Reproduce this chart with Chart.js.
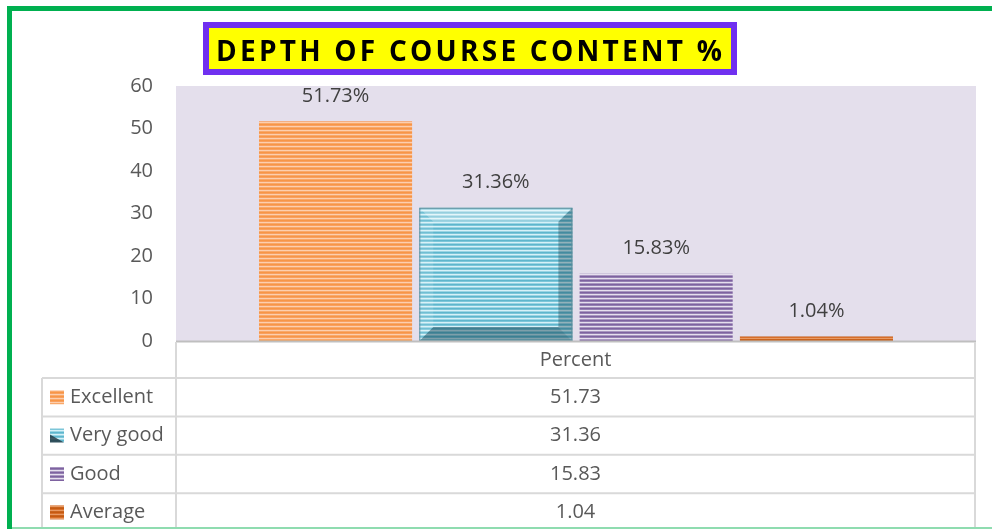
<!DOCTYPE html>
<html>
<head>
<meta charset="utf-8">
<script src="https://cdn.jsdelivr.net/npm/chart.js@4.4.0/dist/chart.umd.min.js"></script>
<style>
  html, body { margin: 0; padding: 0; background: #fff; }
  canvas { display: block; }
</style>
</head>
<body>
<canvas id="chart" width="992" height="529"></canvas>
<script>
// data
const categories = ['Excellent', 'Very good', 'Good', 'Average'];
const percent = [51.73, 31.36, 15.83, 1.04];
const seriesName = 'Percent';
const yMin = 0, yMax = 60, yStep = 10;
const titleText = 'DEPTH OF COURSE CONTENT %';

const FONT = '"Open Sans", "Liberation Sans", sans-serif';

// horizontal stripe fills like the Excel pattern
function stripes(cols) {
  const c = document.createElement('canvas');
  c.width = 8; c.height = cols.length;
  const g = c.getContext('2d');
  cols.forEach((col, i) => { g.fillStyle = col; g.fillRect(0, i, 8, 1); });
  return g.createPattern(c, 'repeat');
}
const ctx0 = document.getElementById('chart').getContext('2d');
const fills = [
  stripes(['#F79646', '#F8A060', '#FCCFAE', '#F9A86A']),
  stripes(['#5EB6CD', '#7CC6D9', '#D6F1F8', '#9AD5E4']),
  stripes(['#7E62A0', '#9580B3', '#E6DFEE', '#A896C0']),
  stripes(['#C55A11', '#D86F2A', '#E89A63', '#C9631E'])
];

const datasets = categories.map((name, i) => ({
  label: name,
  data: [percent[i]],
  backgroundColor: fills[i],
  borderWidth: 0
}));

const framePlugin = {
  id: 'frame',
  beforeDraw(chart) {
    const { ctx, chartArea: a } = chart;
    ctx.save();
    // plot background
    ctx.fillStyle = '#E4DFEC';
    ctx.fillRect(a.left, a.top, a.right - a.left, a.bottom - a.top);
    ctx.restore();
  },
  afterDatasetsDraw(chart) {
    const { ctx, chartArea: a } = chart;
    ctx.save();
    // bevel on the "Very good" bar
    const el = chart.getDatasetMeta(1).data[0];
    const p = el.getProps(['x', 'y', 'base', 'width'], true);
    const l = p.x - p.width / 2, r = p.x + p.width / 2, t = p.y, b = p.base, bv = 14;
    const poly = (pts, col) => {
      ctx.beginPath();
      pts.forEach((q, k) => k ? ctx.lineTo(q[0], q[1]) : ctx.moveTo(q[0], q[1]));
      ctx.closePath(); ctx.fillStyle = col; ctx.fill();
    };
    poly([[l, t], [r, t], [r - bv, t + bv], [l + bv, t + bv]], 'rgba(255,255,255,0.35)');
    poly([[l, t], [l + bv, t + bv], [l + bv, b - bv], [l, b]], 'rgba(255,255,255,0.12)');
    poly([[r, t], [r, b], [r - bv, b - bv], [r - bv, t + bv]], 'rgba(20,60,75,0.35)');
    poly([[l, b], [r, b], [r - bv, b - bv], [l + bv, b - bv]], 'rgba(20,60,75,0.45)');
    ctx.strokeStyle = '#5C8E9C'; ctx.lineWidth = 1;
    ctx.strokeRect(l + 0.5, t + 0.5, p.width - 1, b - t - 1);

    // value labels above the bars
    ctx.fillStyle = '#404040';
    ctx.font = '20px ' + FONT;
    ctx.textAlign = 'center';
    ctx.textBaseline = 'middle';
    chart.data.datasets.forEach((ds, i) => {
      const bar = chart.getDatasetMeta(i).data[0];
      ctx.fillText(ds.data[0].toFixed(2) + '%', bar.x, bar.y - 25);
    });

    // category axis line
    ctx.strokeStyle = '#BFBFBF'; ctx.lineWidth = 2;
    ctx.beginPath(); ctx.moveTo(a.left, a.bottom + 0.5); ctx.lineTo(a.right, a.bottom + 0.5); ctx.stroke();
    ctx.restore();
  },
  afterDraw(chart) {
    const { ctx, chartArea: a } = chart;
    ctx.save();
    // data table
    const tLeft = 42, cLeft = a.left, right = a.right - 1;
    const hTop = a.bottom + 1, rowTop = 378, rowH = 38.4;
    ctx.strokeStyle = '#D9D9D9'; ctx.lineWidth = 2;
    ctx.beginPath();
    ctx.moveTo(cLeft, hTop); ctx.lineTo(cLeft, 529);
    ctx.moveTo(right, hTop); ctx.lineTo(right, 529);
    ctx.moveTo(tLeft, rowTop); ctx.lineTo(tLeft, 529);
    for (let i = 0; i < categories.length; i++) {
      const y = rowTop + i * rowH;
      ctx.moveTo(tLeft, y); ctx.lineTo(right, y);
    }
    ctx.stroke();

    ctx.fillStyle = '#595959';
    ctx.font = '20px ' + FONT;
    ctx.textBaseline = 'middle';
    ctx.textAlign = 'center';
    const cx = (cLeft + right) / 2;
    ctx.fillText(seriesName, cx, (hTop + rowTop) / 2);
    categories.forEach((name, i) => {
      const cy = rowTop + i * rowH + rowH / 2;
      ctx.textAlign = 'center';
      ctx.fillStyle = '#595959';
      ctx.fillText(String(percent[i]), cx, cy);
      // legend key
      ctx.fillStyle = fills[i];
      ctx.fillRect(50, cy - 7, 14, 14);
      if (i === 1) {
        ctx.fillStyle = 'rgba(30,50,60,0.8)';
        ctx.beginPath(); ctx.moveTo(50, cy + 7); ctx.lineTo(64, cy - 7); ctx.lineTo(64, cy + 7); ctx.closePath();
        ctx.beginPath(); ctx.moveTo(50, cy - 1); ctx.lineTo(64, cy + 7); ctx.lineTo(50, cy + 7); ctx.closePath(); ctx.fill();
      }
      ctx.fillStyle = '#595959';
      ctx.textAlign = 'left';
      ctx.fillText(name, 70, cy);
    });

    // title box
    ctx.fillStyle = '#FFFF00';
    ctx.fillRect(206, 25, 528, 47);
    ctx.strokeStyle = '#7030F0'; ctx.lineWidth = 6;
    ctx.strokeRect(206, 25, 528, 47);
    ctx.fillStyle = '#000';
    ctx.font = 'bold 28px ' + FONT;
    ctx.textAlign = 'left';
    ctx.textBaseline = 'alphabetic';
    const chars = titleText.split('');
    const w0 = chars.reduce((s, c) => s + ctx.measureText(c).width, 0);
    const span = 506;
    const gap = (span - w0) / (chars.length - 1);
    let x = 216;
    chars.forEach(c => { ctx.fillText(c, x, 61); x += ctx.measureText(c).width + gap; });

    // green frame
    ctx.strokeStyle = '#00B050'; ctx.lineWidth = 5;
    ctx.beginPath();
    ctx.moveTo(9.5, 529); ctx.lineTo(9.5, 8.5); ctx.lineTo(992, 8.5);
    ctx.stroke();
    ctx.strokeStyle = '#8FDCB0'; ctx.lineWidth = 2;
    ctx.beginPath(); ctx.moveTo(12, 528); ctx.lineTo(992, 528); ctx.stroke();
    ctx.restore();
  }
};

new Chart(ctx0, {
  type: 'bar',
  data: { labels: [seriesName], datasets },
  options: {
    responsive: false,
    animation: false,
    devicePixelRatio: 1,
    layout: { padding: { top: 86, right: 16, bottom: 188, left: 0 } },
    categoryPercentage: 0.8015,
    barPercentage: 0.955,
    plugins: {
      legend: { display: false },
      title: { display: false },
      tooltip: { enabled: false }
    },
    scales: {
      x: { display: false },
      y: {
        min: yMin, max: yMax,
        ticks: { stepSize: yStep, color: '#595959', font: { size: 20, family: FONT }, padding: 23 },
        grid: { display: false, drawTicks: false },
        border: { display: false },
        afterFit(s) { s.width = 176; }
      }
    }
  },
  plugins: [framePlugin]
});
</script>
</body>
</html>
